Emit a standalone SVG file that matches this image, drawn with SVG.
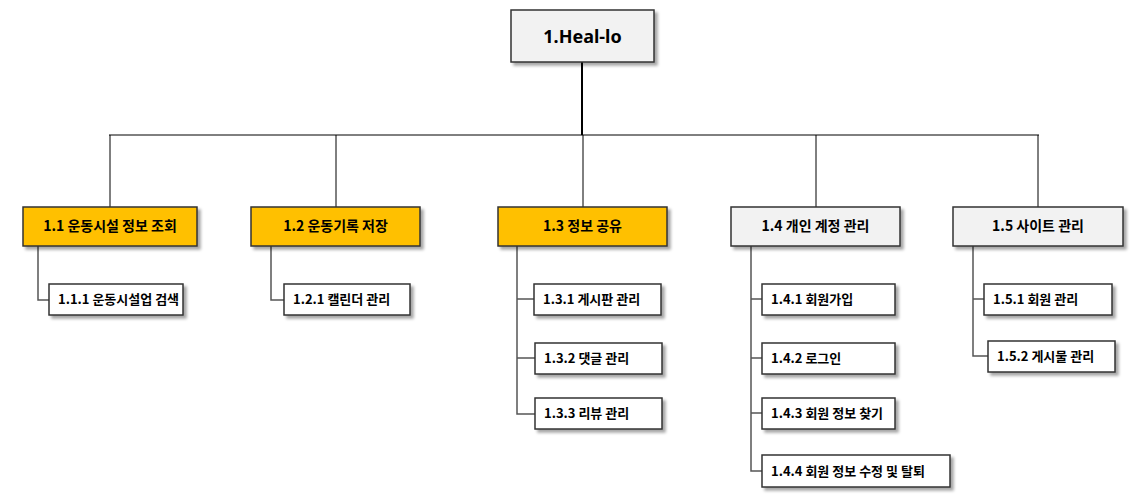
<svg xmlns="http://www.w3.org/2000/svg" width="1148" height="499" viewBox="0 0 1148 499">
<defs>
<filter id="sh" x="-10%" y="-20%" width="130%" height="160%">
<feDropShadow dx="3" dy="3" stdDeviation="1.5" flood-color="#000" flood-opacity="0.35"/>
</filter>
</defs>
<style>
.box{stroke:#333;stroke-width:1.5;filter:url(#sh)}
.gold{fill:#FFC000}
.gray{fill:#F2F2F2}
.white{fill:#FFFFFF}
.t{font-family:"Noto Sans CJK KR","Noto Sans",sans-serif;font-weight:bold;font-size:13px;fill:#000}
.c{text-anchor:middle;font-size:14px}
.root{font-family:"Noto Sans","Noto Sans CJK KR",sans-serif;font-weight:bold;font-size:18px;text-anchor:middle;fill:#000}
.ln{stroke:#555;stroke-width:1.5;fill:none}
.lnr{stroke:#000;stroke-width:2;fill:none}
.thin{stroke:#000;stroke-width:1;fill:none}
</style>
<rect width="1148" height="499" fill="#fff"/>
<g id="connectors">
<path class="lnr" d="M582 62V135"/>
<path class="thin" d="M109 135H1039"/>
<path class="thin" d="M110 135V207M336 135V207M583 135V207M816 135V207M1038 135V207"/>
<path class="ln" d="M38 246V300H49"/>
<path class="ln" d="M271 246V300H284"/>
<path class="ln" d="M517 246V414H535M517 299H534M517 358H535"/>
<path class="ln" d="M751 246V471H762M751 299H762M751 358H762M751 413H762"/>
<path class="ln" d="M973 246V356H988M973 299H984"/>
</g>
<g id="n1"><rect class="box gray" x="511" y="10" width="143" height="52"/><text class="root" x="582.5" y="43">1.Heal-lo</text></g>
<g id="n11"><rect class="box gold" x="23" y="207" width="174" height="39"/><text class="t c" x="110" y="231">1.1 운동시설 정보 조회</text></g>
<g id="n12"><rect class="box gold" x="251" y="207" width="169" height="39"/><text class="t c" x="335.5" y="231">1.2 운동기록 저장</text></g>
<g id="n13"><rect class="box gold" x="498" y="207" width="169" height="39"/><text class="t c" x="582.5" y="231">1.3 정보 공유</text></g>
<g id="n14"><rect class="box gray" x="731" y="207" width="169" height="39"/><text class="t c" x="815.5" y="231">1.4 개인 계정 관리</text></g>
<g id="n15"><rect class="box gray" x="953" y="207" width="170" height="39"/><text class="t c" x="1038" y="231">1.5 사이트 관리</text></g>
<g id="n111"><rect class="box white" x="49" y="284" width="134" height="31"/><text class="t" x="58" y="304">1.1.1 운동시설업 검색</text></g>
<g id="n121"><rect class="box white" x="284" y="284" width="126" height="31"/><text class="t" x="293" y="304">1.2.1 캘린더 관리</text></g>
<g id="n131"><rect class="box white" x="534" y="284" width="127" height="31"/><text class="t" x="543" y="304">1.3.1 게시판 관리</text></g>
<g id="n132"><rect class="box white" x="535" y="343" width="127" height="31"/><text class="t" x="544" y="363">1.3.2 댓글 관리</text></g>
<g id="n133"><rect class="box white" x="535" y="398" width="127" height="31"/><text class="t" x="544" y="418">1.3.3 리뷰 관리</text></g>
<g id="n141"><rect class="box white" x="762" y="284" width="133" height="31"/><text class="t" x="771" y="304">1.4.1 회원가입</text></g>
<g id="n142"><rect class="box white" x="762" y="343" width="133" height="31"/><text class="t" x="771" y="363">1.4.2 로그인</text></g>
<g id="n143"><rect class="box white" x="762" y="398" width="133" height="31"/><text class="t" x="771" y="418">1.4.3 회원 정보 찾기</text></g>
<g id="n144"><rect class="box white" x="762" y="455" width="188" height="32"/><text class="t" x="771" y="476">1.4.4 회원 정보 수정 및 탈퇴</text></g>
<g id="n151"><rect class="box white" x="984" y="284" width="128" height="31"/><text class="t" x="993" y="304">1.5.1 회원 관리</text></g>
<g id="n152"><rect class="box white" x="988" y="341" width="127" height="31"/><text class="t" x="997" y="361">1.5.2 게시물 관리</text></g>
</svg>
